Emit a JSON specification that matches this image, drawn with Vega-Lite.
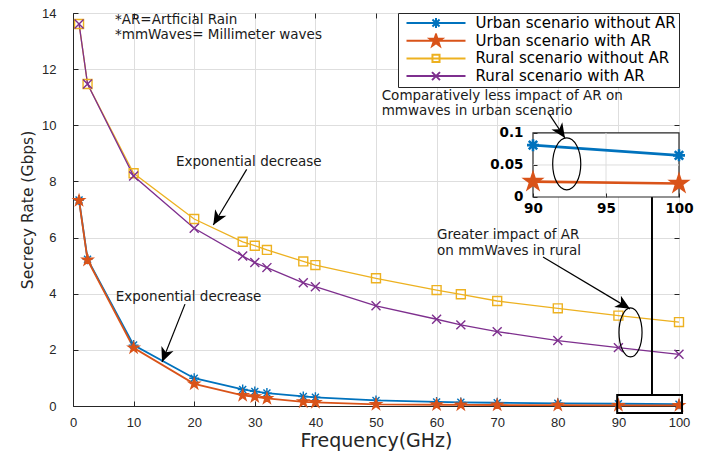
{
  "$schema": "https://vega.github.io/schema/vega-lite/v6.json",
  "width": 606,
  "height": 393,
  "autosize": {"type": "none"},
  "padding": {"left": 73, "top": 13, "right": 26, "bottom": 48},
  "config": {
    "font": "DejaVu Sans",
    "view": {"stroke": "#262626", "strokeWidth": 1},
    "legend": {
      "orient": "top-right",
      "offset": 0,
      "padding": 2.5,
      "strokeColor": "#262626",
      "fillColor": "#ffffff",
      "labelFont": "DejaVu Sans",
      "labelFontSize": 15,
      "labelColor": "#000000",
      "labelLimit": 400,
      "labelOffset": 9,
      "symbolSize": 3481,
      "symbolStrokeWidth": 2,
      "symbolOpacity": 1,
      "symbolOffset": 5,
      "clipHeight": 15,
      "rowPadding": 1.7
    },
    "axis": {
      "domainColor": "#262626",
      "tickColor": "#262626",
      "labelColor": "#262626",
      "titleColor": "#262626",
      "gridColor": "#dedede",
      "gridWidth": 1,
      "titleFontWeight": "normal"
    }
  },
  "datasets": {
    "curves": [
      {"f": 1, "rate": 7.34, "series": "Urban scenario without AR"},
      {"f": 2.4, "rate": 5.23, "series": "Urban scenario without AR"},
      {"f": 10, "rate": 2.17, "series": "Urban scenario without AR"},
      {"f": 20, "rate": 0.99, "series": "Urban scenario without AR"},
      {"f": 28, "rate": 0.59, "series": "Urban scenario without AR"},
      {"f": 30, "rate": 0.52, "series": "Urban scenario without AR"},
      {"f": 32, "rate": 0.46, "series": "Urban scenario without AR"},
      {"f": 38, "rate": 0.34, "series": "Urban scenario without AR"},
      {"f": 40, "rate": 0.31, "series": "Urban scenario without AR"},
      {"f": 50, "rate": 0.2, "series": "Urban scenario without AR"},
      {"f": 60, "rate": 0.145, "series": "Urban scenario without AR"},
      {"f": 64, "rate": 0.13, "series": "Urban scenario without AR"},
      {"f": 70, "rate": 0.115, "series": "Urban scenario without AR"},
      {"f": 80, "rate": 0.097, "series": "Urban scenario without AR"},
      {"f": 90, "rate": 0.081, "series": "Urban scenario without AR"},
      {"f": 100, "rate": 0.065, "series": "Urban scenario without AR"},
      {"f": 1, "rate": 7.32, "series": "Urban scenario with AR"},
      {"f": 2.4, "rate": 5.2, "series": "Urban scenario with AR"},
      {"f": 10, "rate": 2.07, "series": "Urban scenario with AR"},
      {"f": 20, "rate": 0.79, "series": "Urban scenario with AR"},
      {"f": 28, "rate": 0.38, "series": "Urban scenario with AR"},
      {"f": 30, "rate": 0.33, "series": "Urban scenario with AR"},
      {"f": 32, "rate": 0.27, "series": "Urban scenario with AR"},
      {"f": 38, "rate": 0.15, "series": "Urban scenario with AR"},
      {"f": 40, "rate": 0.13, "series": "Urban scenario with AR"},
      {"f": 50, "rate": 0.06, "series": "Urban scenario with AR"},
      {"f": 60, "rate": 0.045, "series": "Urban scenario with AR"},
      {"f": 64, "rate": 0.04, "series": "Urban scenario with AR"},
      {"f": 70, "rate": 0.035, "series": "Urban scenario with AR"},
      {"f": 80, "rate": 0.03, "series": "Urban scenario with AR"},
      {"f": 90, "rate": 0.024, "series": "Urban scenario with AR"},
      {"f": 100, "rate": 0.021, "series": "Urban scenario with AR"},
      {"f": 1, "rate": 13.61, "series": "Rural scenario without AR"},
      {"f": 2.4, "rate": 11.47, "series": "Rural scenario without AR"},
      {"f": 10, "rate": 8.29, "series": "Rural scenario without AR"},
      {"f": 20, "rate": 6.66, "series": "Rural scenario without AR"},
      {"f": 28, "rate": 5.85, "series": "Rural scenario without AR"},
      {"f": 30, "rate": 5.71, "series": "Rural scenario without AR"},
      {"f": 32, "rate": 5.56, "series": "Rural scenario without AR"},
      {"f": 38, "rate": 5.15, "series": "Rural scenario without AR"},
      {"f": 40, "rate": 5.02, "series": "Rural scenario without AR"},
      {"f": 50, "rate": 4.55, "series": "Rural scenario without AR"},
      {"f": 60, "rate": 4.13, "series": "Rural scenario without AR"},
      {"f": 64, "rate": 3.98, "series": "Rural scenario without AR"},
      {"f": 70, "rate": 3.74, "series": "Rural scenario without AR"},
      {"f": 80, "rate": 3.48, "series": "Rural scenario without AR"},
      {"f": 90, "rate": 3.22, "series": "Rural scenario without AR"},
      {"f": 100, "rate": 2.99, "series": "Rural scenario without AR"},
      {"f": 1, "rate": 13.61, "series": "Rural scenario with AR"},
      {"f": 2.4, "rate": 11.47, "series": "Rural scenario with AR"},
      {"f": 10, "rate": 8.19, "series": "Rural scenario with AR"},
      {"f": 20, "rate": 6.33, "series": "Rural scenario with AR"},
      {"f": 28, "rate": 5.34, "series": "Rural scenario with AR"},
      {"f": 30, "rate": 5.11, "series": "Rural scenario with AR"},
      {"f": 32, "rate": 4.93, "series": "Rural scenario with AR"},
      {"f": 38, "rate": 4.39, "series": "Rural scenario with AR"},
      {"f": 40, "rate": 4.25, "series": "Rural scenario with AR"},
      {"f": 50, "rate": 3.57, "series": "Rural scenario with AR"},
      {"f": 60, "rate": 3.09, "series": "Rural scenario with AR"},
      {"f": 64, "rate": 2.89, "series": "Rural scenario with AR"},
      {"f": 70, "rate": 2.65, "series": "Rural scenario with AR"},
      {"f": 80, "rate": 2.33, "series": "Rural scenario with AR"},
      {"f": 90, "rate": 2.08, "series": "Rural scenario with AR"},
      {"f": 100, "rate": 1.84, "series": "Rural scenario with AR"}
    ],
    "notes": [
      {"f": 6.93, "rate": 13.75, "label": "*AR=Artficial Rain"},
      {"f": 6.93, "rate": 13.22, "label": "*mmWaves= Millimeter waves"},
      {"f": 17.0, "rate": 8.69, "label": "Exponential decrease"},
      {"f": 7.05, "rate": 3.89, "label": "Exponential decrease"},
      {"f": 60.07, "rate": 6.09, "label": "Greater impact of AR"},
      {"f": 60.07, "rate": 5.53, "label": "on mmWaves in rural"},
      {"f": 50.94, "rate": 11.06, "label": "Comparatively less impact of AR on"},
      {"f": 50.94, "rate": 10.52, "label": "mmwaves in urban scenario"}
    ],
    "shafts": [
      {"id": "rural", "f": 28.66, "rate": 8.43, "f2": 23.15, "rate2": 6.45},
      {"id": "urban", "f": 18.48, "rate": 3.63, "f2": 14.69, "rate2": 1.57},
      {"id": "gap", "f": 77.56, "rate": 5.31, "f2": 91.91, "rate2": 3.46}
    ],
    "heads": [
      {"id": "rural", "f": 23.15, "rate": 6.45},
      {"id": "urban", "f": 14.69, "rate": 1.57},
      {"id": "gap", "f": 91.91, "rate": 3.46}
    ],
    "rings": [{"f": 92.0, "rate": 2.62}],
    "stem": [{"f": 95.54, "rate": 7.45, "f2": 95.54, "rate2": 0.39}],
    "zoomBox": [{"f": 89.8, "rate": -0.25, "f2": 100.5, "rate2": 0.39}],
    "insetFrame": [{"f": 90, "rate": 0, "f2": 100, "rate2": 0.1}],
    "insetGrid": [
      {"f": 95, "rate": 0, "f2": 95, "rate2": 0.1},
      {"f": 90, "rate": 0.05, "f2": 100, "rate2": 0.05}
    ],
    "insetShaft": [{"f": 91.1, "rate": 0.1297, "f2": 92.19, "rate2": 0.0922}],
    "insetHead": [{"f": 92.19, "rate": 0.0922}],
    "insetRing": [{"f": 92.31, "rate": 0.0516}]
  },
  "layer": [
    {
      "encoding": {
        "x": {
          "field": "f", "type": "quantitative",
          "scale": {"domain": [0, 100], "nice": false, "zero": false},
          "axis": {
            "values": [0, 10, 20, 30, 40, 50, 60, 70, 80, 90, 100],
            "tickSize": -5, "labelPadding": 15, "labelFlush": false,
            "labelFont": "Liberation Sans", "labelFontSize": 13,
            "grid": true, "title": "Frequency(GHz)",
            "titleFont": "DejaVu Sans", "titleFontSize": 19, "titlePadding": 2
          }
        },
        "y": {
          "field": "rate", "type": "quantitative",
          "scale": {"domain": [0, 14], "nice": false},
          "axis": {
            "values": [0, 2, 4, 6, 8, 10, 12, 14],
            "tickSize": -5, "labelPadding": 22, "labelFlush": false,
            "labelFont": "Liberation Sans", "labelFontSize": 13,
            "grid": true, "title": "Secrecy Rate (Gbps)",
            "titleFont": "DejaVu Sans", "titleFontSize": 15.5, "titlePadding": 6
          }
        }
      },
      "layer": [
        {
          "data": {"name": "curves"},
          "transform": [{"filter": {"field": "series", "oneOf": ["Urban scenario without AR", "Urban scenario with AR"]}}],
          "mark": {"type": "line", "strokeWidth": 1.8},
          "encoding": {
            "color": {"field": "series", "type": "nominal",
              "scale": {"domain": ["Urban scenario without AR", "Urban scenario with AR", "Rural scenario without AR", "Rural scenario with AR"], "range": ["#0072BD", "#D95319", "#EDB120", "#7E2F8E"]},
              "legend": null}
          }
        },
        {
          "data": {"name": "curves"},
          "transform": [{"filter": {"field": "series", "oneOf": ["Rural scenario without AR", "Rural scenario with AR"]}}],
          "mark": {"type": "line", "strokeWidth": 1.3},
          "encoding": {
            "color": {"field": "series", "type": "nominal",
              "scale": {"domain": ["Urban scenario without AR", "Urban scenario with AR", "Rural scenario without AR", "Rural scenario with AR"], "range": ["#0072BD", "#D95319", "#EDB120", "#7E2F8E"]},
              "legend": null}
          }
        },
        {
          "data": {"name": "curves"},
          "mark": {"type": "point", "filled": false, "strokeWidth": 1.4, "size": 196, "opacity": 1},
          "encoding": {
            "color": {"field": "series", "type": "nominal",
              "scale": {"domain": ["Urban scenario without AR", "Urban scenario with AR", "Rural scenario without AR", "Rural scenario with AR"], "range": ["#0072BD", "#D95319", "#EDB120", "#7E2F8E"]},
              "legend": null},
            "fill": {"field": "series", "type": "nominal",
              "scale": {"domain": ["Urban scenario without AR", "Urban scenario with AR", "Rural scenario without AR", "Rural scenario with AR"], "range": ["transparent", "#D95319", "transparent", "transparent"]},
              "legend": null},
            "shape": {"field": "series", "type": "nominal",
              "scale": {"domain": ["Urban scenario without AR", "Urban scenario with AR", "Rural scenario without AR", "Rural scenario with AR"],
                "range": [
                  "M-0.71,0H0.71M0,-0.71V0.71M-0.5,-0.5L0.5,0.5M-0.5,0.5L0.5,-0.5",
                  "M0,-0.8L0.18,-0.247L0.761,-0.247L0.291,0.094L0.47,0.647L0,0.306L-0.47,0.647L-0.291,0.094L-0.761,-0.247L-0.18,-0.247Z",
                  "M-0.64,-0.64H0.64V0.64H-0.64Z",
                  "M-0.64,-0.64L0.64,0.64M-0.64,0.64L0.64,-0.64"
                ]},
              "legend": null}
          }
        },
        {
          "data": {"name": "shafts"},
          "mark": {"type": "rule", "color": "#000000", "strokeWidth": 1.2},
          "encoding": {"x2": {"field": "f2"}, "y2": {"field": "rate2"}}
        },
        {
          "data": {"name": "heads"},
          "transform": [{"filter": {"field": "id", "equal": "rural"}}],
          "mark": {"type": "point", "shape": "M0,0L-1,-0.45L-0.72,0L-1,0.45Z", "size": 841, "filled": true, "color": "#000000", "opacity": 1, "angle": 121},
          "encoding": {}
        },
        {
          "data": {"name": "heads"},
          "transform": [{"filter": {"field": "id", "equal": "urban"}}],
          "mark": {"type": "point", "shape": "M0,0L-1,-0.45L-0.72,0L-1,0.45Z", "size": 841, "filled": true, "color": "#000000", "opacity": 1, "angle": 112},
          "encoding": {}
        },
        {
          "data": {"name": "heads"},
          "transform": [{"filter": {"field": "id", "equal": "gap"}}],
          "mark": {"type": "point", "shape": "M0,0L-1,-0.45L-0.72,0L-1,0.45Z", "size": 841, "filled": true, "color": "#000000", "opacity": 1, "angle": 31},
          "encoding": {}
        },
        {
          "data": {"name": "rings"},
          "mark": {"type": "point", "shape": "M0,-1C0.259,-1 0.47,-0.552 0.47,0C0.47,0.552 0.259,1 0,1C-0.259,1 -0.47,0.552 -0.47,0C-0.47,-0.552 -0.259,-1 0,-1Z", "size": 2401, "filled": false, "color": "#000000", "strokeWidth": 1.2, "opacity": 1},
          "encoding": {}
        },
        {
          "data": {"name": "stem"},
          "mark": {"type": "rule", "color": "#000000", "strokeWidth": 2},
          "encoding": {"x2": {"field": "f2"}, "y2": {"field": "rate2"}}
        },
        {
          "data": {"name": "zoomBox"},
          "mark": {"type": "rect", "filled": false, "color": "#000000", "strokeWidth": 2},
          "encoding": {"x2": {"field": "f2"}, "y2": {"field": "rate2"}}
        },
        {
          "data": {"name": "notes"},
          "mark": {"type": "text", "align": "left", "baseline": "middle", "font": "DejaVu Sans", "fontSize": 13.5, "color": "#1a1a1a"},
          "encoding": {"text": {"field": "label"}}
        }
      ]
    },
    {
      "data": {"name": "curves"},
      "mark": {"type": "point", "opacity": 0, "filled": false, "size": 3481},
      "encoding": {
        "x": {"field": "f", "type": "quantitative",
          "scale": {"domain": [0, 100], "nice": false, "zero": false},
          "axis": {"orient": "top", "values": [0, 10, 20, 30, 40, 50, 60, 70, 80, 90, 100], "labels": false, "domain": false, "grid": false, "tickSize": -5, "title": null}},
        "y": {"field": "rate", "type": "quantitative",
          "scale": {"domain": [0, 14], "nice": false},
          "axis": {"orient": "right", "values": [0, 2, 4, 6, 8, 10, 12, 14], "labels": false, "domain": false, "grid": false, "tickSize": -5, "title": null}},
        "stroke": {"field": "series", "type": "nominal",
          "scale": {"domain": ["Urban scenario without AR", "Urban scenario with AR", "Rural scenario without AR", "Rural scenario with AR"], "range": ["#0072BD", "#D95319", "#EDB120", "#7E2F8E"]},
          "legend": {"title": null}},
        "fill": {"field": "series", "type": "nominal",
          "scale": {"domain": ["Urban scenario without AR", "Urban scenario with AR", "Rural scenario without AR", "Rural scenario with AR"], "range": ["transparent", "#D95319", "transparent", "transparent"]},
          "legend": {"title": null}},
        "shape": {"field": "series", "type": "nominal",
          "scale": {"domain": ["Urban scenario without AR", "Urban scenario with AR", "Rural scenario without AR", "Rural scenario with AR"],
            "range": [
              "M-1,0H1M-0.17,0H0.17M0,-0.17V0.17M-0.12,-0.12L0.12,0.12M-0.12,0.12L0.12,-0.12",
              "M-1,0H1M0,-0.22L0.049,-0.068L0.209,-0.068L0.08,0.026L0.129,0.178L0,0.084L-0.129,0.178L-0.08,0.026L-0.209,-0.068L-0.049,-0.068Z",
              "M-1,0H1M-0.12,-0.12H0.12V0.12H-0.12Z",
              "M-1,0H1M-0.135,-0.135L0.135,0.135M-0.135,0.135L0.135,-0.135"
            ]},
          "legend": {"title": null}}
      }
    },
    {
      "encoding": {
        "x": {"field": "f", "type": "quantitative",
          "scale": {"domain": [58.493, 100], "nice": false, "zero": false},
          "axis": {"orient": "bottom", "offset": -209, "values": [90, 95, 100], "domain": false, "grid": false, "tickSize": -4, "labelPadding": 8, "labelFlush": false,
            "labelFont": "DejaVu Sans", "labelFontWeight": "bold", "labelFontSize": 13.5, "labelColor": "#000000", "title": null, "zindex": 2}},
        "y": {"field": "rate", "type": "quantitative",
          "scale": {"domain": [-0.3265, 0.2874], "nice": false, "zero": false},
          "axis": {"orient": "left", "offset": -460, "values": [0, 0.05, 0.1], "format": "~g", "domain": false, "grid": false, "tickSize": -4, "labelPadding": 14, "labelFlush": false,
            "labelFont": "DejaVu Sans", "labelFontWeight": "bold", "labelFontSize": 13.5, "labelColor": "#000000", "title": null, "zindex": 2}}
      },
      "layer": [
        {
          "data": {"name": "insetFrame"},
          "mark": {"type": "rect", "fill": "#ffffff", "stroke": "#262626", "strokeWidth": 1.2},
          "encoding": {"x2": {"field": "f2"}, "y2": {"field": "rate2"}}
        },
        {
          "data": {"name": "insetGrid"},
          "mark": {"type": "rule", "color": "#dedede", "strokeWidth": 1},
          "encoding": {"x2": {"field": "f2"}, "y2": {"field": "rate2"}}
        },
        {
          "data": {"name": "curves"},
          "transform": [
            {"filter": {"field": "series", "oneOf": ["Urban scenario without AR", "Urban scenario with AR"]}},
            {"filter": {"field": "f", "gte": 90}}
          ],
          "mark": {"type": "line", "strokeWidth": 2.6},
          "encoding": {
            "color": {"field": "series", "type": "nominal",
              "scale": {"domain": ["Urban scenario without AR", "Urban scenario with AR"], "range": ["#0072BD", "#D95319"]},
              "legend": null}
          }
        },
        {
          "data": {"name": "curves"},
          "transform": [
            {"filter": {"field": "series", "oneOf": ["Urban scenario without AR", "Urban scenario with AR"]}},
            {"filter": {"field": "f", "gte": 90}}
          ],
          "mark": {"type": "point", "filled": false, "strokeWidth": 2.6, "size": 400, "opacity": 1},
          "encoding": {
            "color": {"field": "series", "type": "nominal",
              "scale": {"domain": ["Urban scenario without AR", "Urban scenario with AR"], "range": ["#0072BD", "#D95319"]},
              "legend": null},
            "fill": {"field": "series", "type": "nominal",
              "scale": {"domain": ["Urban scenario without AR", "Urban scenario with AR"], "range": ["#0072BD", "#D95319"]},
              "legend": null},
            "shape": {"field": "series", "type": "nominal",
              "scale": {"domain": ["Urban scenario without AR", "Urban scenario with AR"],
                "range": [
                  "M-0.6,0H0.6M0,-0.6V0.6M-0.42,-0.42L0.42,0.42M-0.42,0.42L0.42,-0.42",
                  "M0,-0.8L0.18,-0.247L0.761,-0.247L0.291,0.094L0.47,0.647L0,0.306L-0.47,0.647L-0.291,0.094L-0.761,-0.247L-0.18,-0.247Z"
                ]},
              "legend": null}
          }
        },
        {
          "data": {"name": "insetShaft"},
          "mark": {"type": "rule", "color": "#000000", "strokeWidth": 1.2},
          "encoding": {"x2": {"field": "f2"}, "y2": {"field": "rate2"}}
        },
        {
          "data": {"name": "insetHead"},
          "mark": {"type": "point", "shape": "M0,0L-1,-0.45L-0.72,0L-1,0.45Z", "size": 841, "filled": true, "color": "#000000", "opacity": 1, "angle": 56},
          "encoding": {}
        },
        {
          "data": {"name": "insetRing"},
          "mark": {"type": "point", "shape": "M0,-1C0.298,-1 0.54,-0.552 0.54,0C0.54,0.552 0.298,1 0,1C-0.298,1 -0.54,0.552 -0.54,0C-0.54,-0.552 -0.298,-1 0,-1Z", "size": 2704, "filled": false, "color": "#000000", "strokeWidth": 1.2, "opacity": 1},
          "encoding": {}
        }
      ]
    }
  ],
  "resolve": {
    "scale": {"x": "independent", "y": "independent", "color": "independent", "shape": "independent", "fill": "independent", "stroke": "independent"}
  }
}
